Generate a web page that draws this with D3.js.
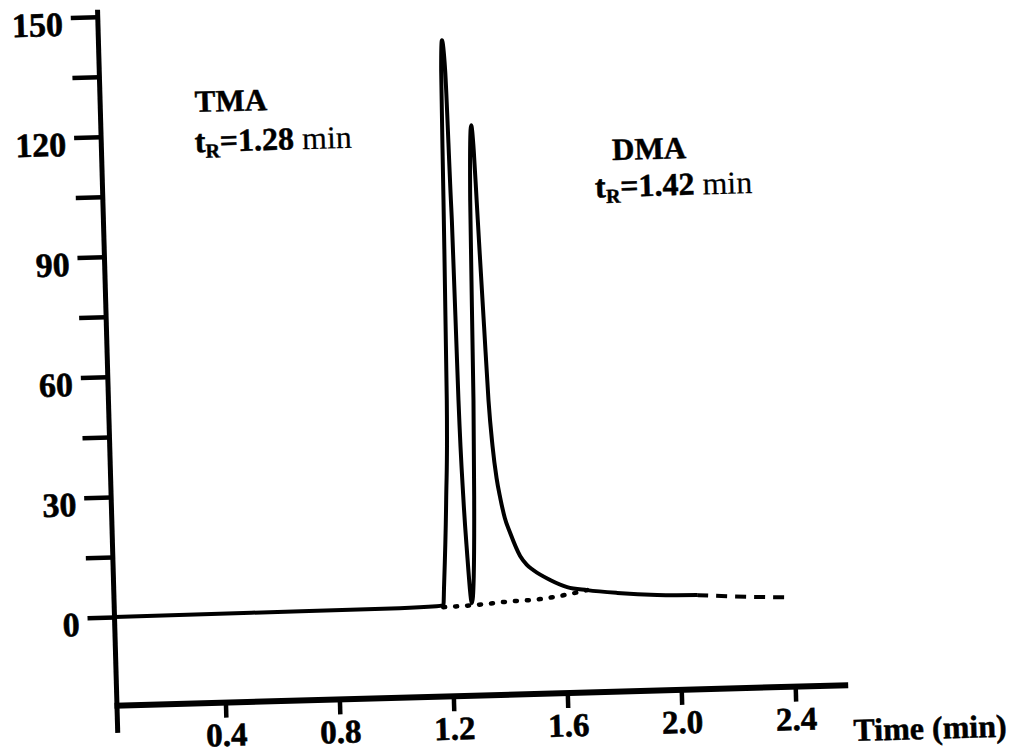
<!DOCTYPE html>
<html>
<head>
<meta charset="utf-8">
<script src="https://cdn.jsdelivr.net/npm/d3@7"></script>
<style>
  body { margin: 0; background: #fff; }
  svg { display: block; font-family: "Liberation Serif", "Times New Roman", serif; }
</style>
</head>
<body>
<svg width="1011" height="756"></svg>
<script>
// chromatogram (time in min, signal)
var traceTime = [0.02, 0.5, 1.02, 1.15, 1.174, 1.178, 1.194, 1.206, 1.214, 1.2186, 1.2242, 1.2326, 1.240, 1.2414, 1.247, 1.2547, 1.2618, 1.274,
  1.2923, 1.2996, 1.3077, 1.3186, 1.325, 1.3305, 1.336, 1.344, 1.3523, 1.362, 1.373, 1.384, 1.398, 1.4154, 1.448, 1.47, 1.4923, 1.5509, 1.6098, 1.68, 1.785, 1.925, 2.065];
var traceSignal = [0, 0.1, 0.2, 0.4, 0.65, 5.1, 26.8, 51.8, 101.7, 134.2, 141.7, 134.2, 101.7, 96.7, 51.7, 26.8, 14.2, 1.0,
  26.7, 51.6, 101.6, 120.3, 114, 101, 88, 70, 51.5, 40, 32, 27, 22, 18.2, 12.4, 10.2, 8.8, 6.2, 4.3, 3.4, 2.5, 1.7, 1.4];

// dashed continuation of the tail
var tailTime = [2.065, 2.15, 2.25, 2.381];
var tailSignal = [1.4, 1.0, 0.6, 0.2];

// dotted baseline drawn under the two peaks
var baseTime = [1.173, 1.285, 1.398, 1.514, 1.63, 1.68];
var baseSignal = [0.15, 0.47, 1.07, 1.5, 2.7, 3.4];

var yTicks = [0, 15, 30, 45, 60, 75, 90, 105, 120, 135, 150];
var yLabels = [0, 30, 60, 90, 120, 150];
var xTicks = [0.4, 0.8, 1.2, 1.6, 2.0, 2.4];

var peakNames = ["TMA", "DMA"];
var peakRT = ["1.28", "1.42"];

var svg = d3.select("svg");

// the scanned figure is tilted a little, so the whole plot is turned
var g = svg.append("g").attr("transform", "rotate(-1.6,113,617)");

var x = d3.scaleLinear().domain([0, 2.4]).range([109, 793]);
var y = d3.scaleLinear().domain([0, 150]).range([617, 16.5]);

// y axis
var yAxis = g.append("g")
  .attr("transform", "translate(114.5,0)")
  .call(d3.axisLeft(y).tickValues(yTicks).tickSize(27).tickPadding(8)
    .tickFormat(function(d) { return yLabels.indexOf(d) >= 0 ? d : ""; }));
yAxis.attr("font-family", null).attr("font-size", null);
yAxis.select(".domain").remove();
yAxis.selectAll(".tick line").attr("stroke", "#000").attr("stroke-width", 4.5);
yAxis.selectAll(".tick text")
  .attr("dy", "0.52em")
  .attr("font-size", 34)
  .attr("font-weight", "bold")
  .attr("fill", "#000")
  .attr("stroke", "#000").attr("stroke-width", 0.6);
yAxis.append("line")
  .attr("x1", 0).attr("x2", 0).attr("y1", 9.6).attr("y2", 733)
  .attr("stroke", "#000").attr("stroke-width", 5);

// x axis
var xAxis = g.append("g")
  .attr("transform", "translate(0,705.7)")
  .call(d3.axisBottom(x).tickValues(xTicks).tickSize(15).tickPadding(5).tickFormat(d3.format(".1f")));
xAxis.attr("font-family", null).attr("font-size", null);
xAxis.select(".domain").remove();
xAxis.selectAll(".tick line").attr("stroke", "#000").attr("stroke-width", 4.5);
xAxis.selectAll(".tick text")
  .attr("font-size", 33)
  .attr("font-weight", "bold")
  .attr("fill", "#000")
  .attr("stroke", "#000").attr("stroke-width", 0.6);
xAxis.append("line")
  .attr("x1", 112).attr("x2", 846).attr("y1", 0).attr("y2", 0)
  .attr("stroke", "#000").attr("stroke-width", 6);
xAxis.append("text")
  .attr("x", 850).attr("y", 56)
  .attr("text-anchor", "start")
  .attr("font-size", 32)
  .attr("font-weight", "bold")
  .attr("fill", "#000")
  .attr("stroke", "#000").attr("stroke-width", 0.5)
  .text("Time (min)");

var line = d3.line()
  .x(function(d) { return x(d[0]); })
  .y(function(d) { return y(d[1]); })
  .curve(d3.curveMonotoneX);

g.append("path")
  .datum(d3.zip(baseTime, baseSignal))
  .attr("d", line)
  .attr("fill", "none")
  .attr("stroke", "#000")
  .attr("stroke-width", 4.5)
  .attr("stroke-linecap", "round")
  .attr("stroke-dasharray", "2,10");

g.append("path")
  .datum(d3.zip(tailTime, tailSignal))
  .attr("d", line)
  .attr("fill", "none")
  .attr("stroke", "#000")
  .attr("stroke-width", 4)
  .attr("stroke-dasharray", "11,8");

g.append("path")
  .datum(d3.zip(traceTime, traceSignal))
  .attr("d", line)
  .attr("fill", "none")
  .attr("stroke", "#000")
  .attr("stroke-width", 4)
  .attr("stroke-linejoin", "round");

// peak labels
function peakLabel(i, tx, ty, rx, ry) {
  g.append("text")
    .attr("x", x(tx)).attr("y", y(ty))
    .attr("font-size", 31).attr("font-weight", "bold").attr("fill", "#000")
    .attr("stroke", "#000").attr("stroke-width", 0.5)
    .text(peakNames[i]);
  var t = g.append("text")
    .attr("x", x(rx)).attr("y", y(ry))
    .attr("font-size", 32).attr("font-weight", "bold").attr("fill", "#000")
    .attr("stroke", "#000").attr("stroke-width", 0.5);
  t.append("tspan").text("t");
  t.append("tspan").attr("font-size", 20).attr("dy", 6).text("R");
  t.append("tspan").attr("dy", -6).text("=" + peakRT[i]);
  t.append("tspan").attr("font-weight", "normal").attr("stroke-width", 0.2).text(" min");
}
peakLabel(0, 0.351, 125.5, 0.347, 115.5);
peakLabel(1, 1.81, 110.6, 1.747, 101.4);
</script>
</body>
</html>
